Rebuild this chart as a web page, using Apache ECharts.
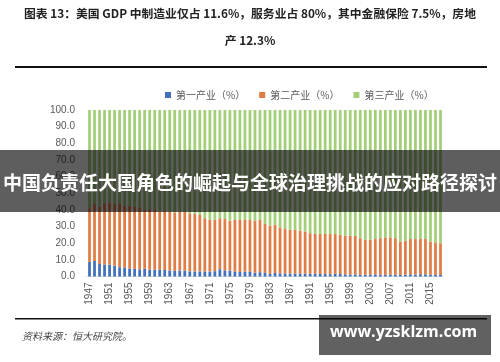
<!DOCTYPE html>
<html><head><meta charset="utf-8">
<script src="https://cdn.jsdelivr.net/npm/echarts@6/dist/echarts.min.js"></script>
<style>html,body{margin:0;padding:0;background:#fff}#c{width:500px;height:362px}</style>
</head><body><div id="c"></div>
<script>
var years = [];
for (var y = 1947; y <= 2017; y++) years.push(String(y));
var primary = [8.8, 9.3, 7.5,
  7.2, 7.2, 6.5, 5.6, 5.4, 4.8, 4.6, 4.3, 4.6, 4.1,
  4.1, 4.0, 3.9, 3.6, 3.4, 3.6, 3.5, 3.1, 3.0, 3.1,
  3.0, 3.0, 3.2, 4.4, 3.7, 3.5, 3.0, 2.7, 2.9, 3.0,
  2.3, 2.6, 2.2, 1.6, 2.1, 1.9, 1.8, 1.8, 1.7, 1.8,
  1.7, 1.6, 1.7, 1.5, 1.6, 1.4, 1.6, 1.5, 1.3, 1.2,
  1.2, 1.1, 1.0, 1.1, 1.3, 1.1, 1.0, 1.1, 1.1, 1.0,
  1.1, 1.3, 1.2, 1.4, 1.3, 1.1, 1.0, 0.9];
var secondary = [32.2, 34.7, 34.5,
  36.8, 37.3, 37.0, 38.4, 37.1, 37.7, 37.4, 37.2, 35.4, 36.4,
  35.9, 35.0, 35.6, 35.4, 35.1, 35.4, 35.5, 34.9, 34.5, 33.9,
  32.0, 31.0, 30.8, 30.6, 30.8, 30.0, 31.0, 31.3, 31.1, 31.0,
  31.2, 31.4, 29.3, 28.9, 28.9, 27.6, 26.7, 26.2, 26.3, 25.7,
  25.3, 24.4, 23.8, 24.0, 23.9, 24.1, 23.9, 23.5, 23.2, 23.3,
  23.3, 21.9, 21.0, 20.9, 21.2, 21.9, 22.5, 22.4, 21.9, 20.0,
  20.4, 21.2, 21.3, 21.1, 21.2, 19.9, 19.5, 19.1];
var tertiary = [59.0, 56.0, 58.0,
  56.0, 55.5, 56.5, 56.0, 57.5, 57.5, 58.0, 58.5, 60.0, 59.5,
  60.0, 61.0, 60.5, 61.0, 61.5, 61.0, 61.0, 62.0, 62.5, 63.0,
  65.0, 66.0, 66.0, 65.0, 65.5, 66.5, 66.0, 66.0, 66.0, 66.0,
  66.5, 66.0, 68.5, 69.5, 69.0, 70.5, 71.5, 72.0, 72.0, 72.5,
  73.0, 74.0, 74.5, 74.5, 74.5, 74.5, 74.5, 75.0, 75.5, 75.5,
  75.5, 77.0, 78.0, 78.0, 77.5, 77.0, 76.5, 76.5, 77.0, 79.0,
  78.5, 77.5, 77.5, 77.5, 77.5, 79.0, 79.5, 80.0];
var seriesNames = ['第一产业（%）', '第二产业（%）', '第三产业（%）'];
var titleLine1 = '图表 13：美国 GDP 中制造业仅占 11.6%，服务业占 80%，其中金融保险 7.5%，房地';
var titleLine2 = '产 12.3%';
var sourceText = '资料来源：恒大研究院。';
var bannerText = '中国负责任大国角色的崛起与全球治理挑战的应对路径探讨';
var watermarkText = 'www.yzsklzm.com';

var chart = echarts.init(document.getElementById('c'), null, {renderer: 'canvas'});
var colors = ['#4170BC', '#E07D45', '#A2CF78'];
var cjk = '"Noto Sans CJK SC", sans-serif';
function mk(i, data) {
  return {name: seriesNames[i], type: 'bar', stack: 'all', data: data, barCategoryGap: '45%',
    itemStyle: {color: colors[i]}, emphasis: {disabled: true}};
}
chart.setOption({
  animation: false,
  backgroundColor: '#fff',
  legend: {
    top: 85, left: 160, itemWidth: 6, itemHeight: 6, itemGap: 14, icon: 'rect',
    textStyle: {fontSize: 10, color: '#595959', fontFamily: cjk},
    data: seriesNames
  },
  grid: {left: 87, width: 356, top: 110, height: 166.5, containLabel: false},
  xAxis: {
    type: 'category', data: years,
    axisLine: {show: true, lineStyle: {color: '#d9d9d9'}},
    axisTick: {show: false},
    axisLabel: {rotate: 90, interval: 3, fontSize: 10, color: '#595959', margin: 6, fontFamily: 'Liberation Sans, sans-serif'}
  },
  yAxis: {
    type: 'value', min: 0, max: 100, interval: 10,
    splitLine: {show: false}, axisLine: {show: false}, axisTick: {show: false},
    axisLabel: {fontSize: 10, color: '#595959', margin: 12, fontFamily: 'Liberation Sans, sans-serif',
      formatter: function (v) { return v.toFixed(1); }}
  },
  series: [mk(0, primary), mk(1, secondary), mk(2, tertiary)],
  graphic: [
    {type: 'text', left: 'center', top: 8, style: {text: titleLine1, font: 'bold 11.8px ' + cjk, fill: '#222'}},
    {type: 'text', left: 'center', top: 35, style: {text: titleLine2, font: 'bold 11.8px ' + cjk, fill: '#222'}},
    {type: 'rect', shape: {x: 15, y: 66, width: 472, height: 2}, style: {fill: '#111'}},
    {type: 'rect', shape: {x: 15, y: 318, width: 472, height: 1.5}, style: {fill: '#111'}},
    {type: 'text', left: 22, top: 331, style: {text: sourceText, font: 'italic 10px ' + cjk, fill: '#444'}},
    {type: 'rect', z: 100, shape: {x: 0, y: 150, width: 500, height: 62}, style: {fill: 'rgba(0,0,0,0.63)'}},
    {type: 'text', z: 101, left: 'center', top: 173, style: {text: bannerText, font: 'bold 19px ' + cjk, fill: '#fff'}},
    {type: 'rect', z: 100, shape: {x: 319, y: 315, width: 172, height: 40}, style: {fill: 'rgba(0,0,0,0.62)'}},
    {type: 'text', z: 101, left: 330, top: 324, style: {text: watermarkText, font: 'bold 16px "Open Sans", sans-serif', fill: '#fff'}}
  ]
});
</script></body></html>
